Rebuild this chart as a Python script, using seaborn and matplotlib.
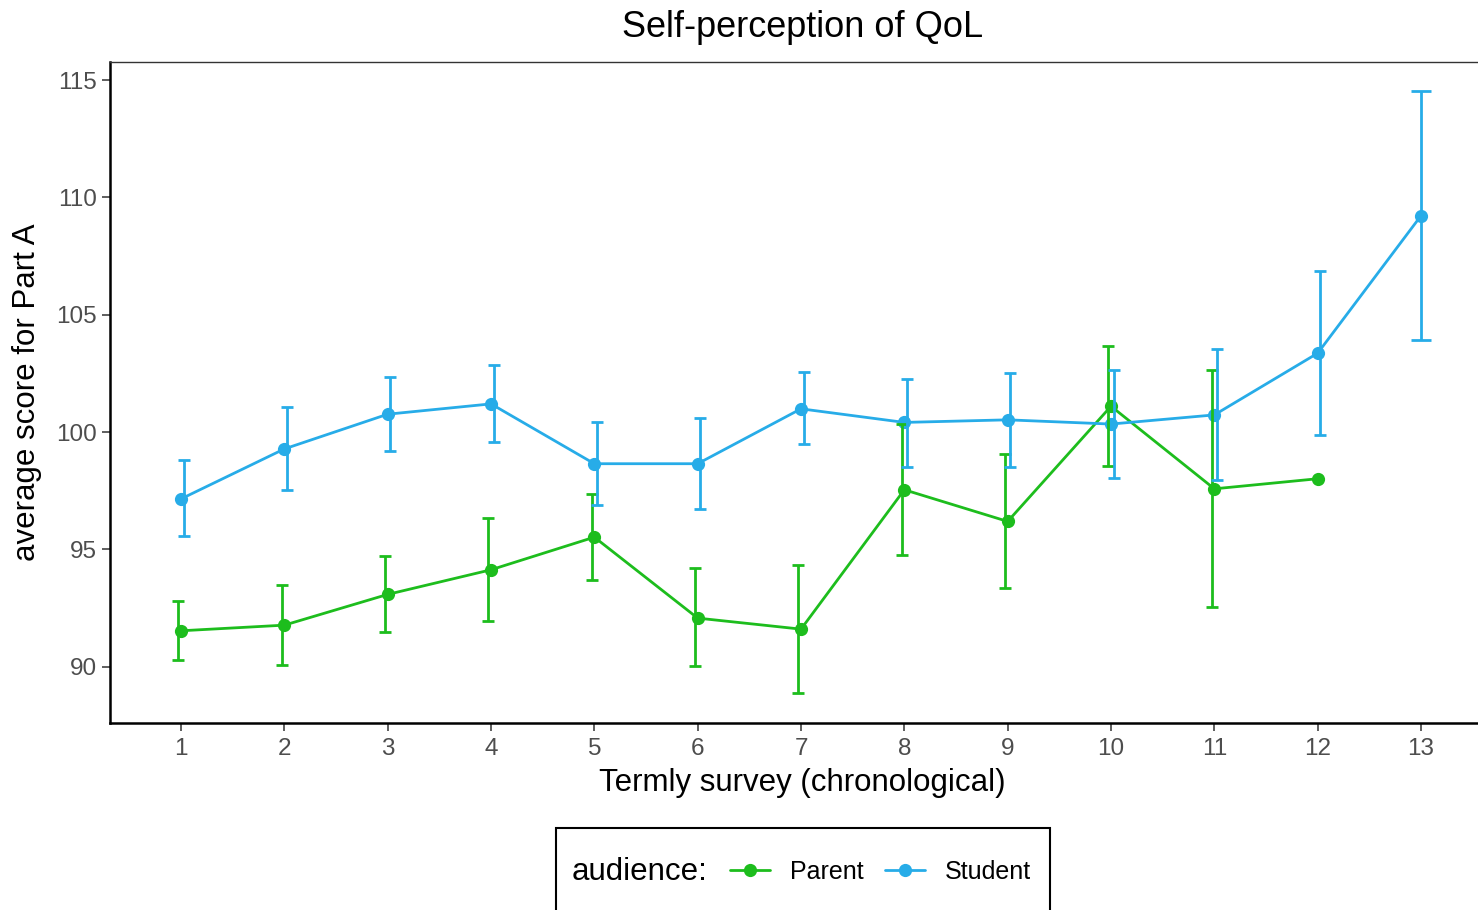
import numpy as np
import pandas as pd
import seaborn as sns
from matplotlib import pyplot as plt
from matplotlib.lines import Line2D
from matplotlib.patches import Rectangle

# values
surveys = list(range(1, 14))

parent_mean = [91.53, 91.77, 93.08, 94.13, 95.52, 92.07, 91.60, 97.54, 96.19, 101.10, 97.58, 98.01]
parent_lo = [90.30, 90.09, 91.46, 91.93, 93.71, 90.02, 88.88, 94.77, 93.35, 98.56, 92.54, np.nan]
parent_hi = [92.78, 93.49, 94.71, 96.33, 97.37, 94.20, 94.34, 100.35, 99.06, 103.68, 102.66, np.nan]

student_mean = [97.15, 99.28, 100.76, 101.20, 98.65, 98.65, 100.99, 100.41, 100.52, 100.34, 100.73, 103.36, 109.22]
student_lo = [95.55, 97.54, 99.20, 99.57, 96.87, 96.73, 99.48, 98.50, 98.53, 98.05, 97.94, 99.88, 103.93]
student_hi = [98.79, 101.06, 102.34, 102.86, 100.43, 100.58, 102.54, 102.27, 102.51, 102.66, 103.53, 106.87, 114.53]

audiences = ["Parent", "Student"]
colours = {"Parent": "#1DBD1D", "Student": "#27ACE8"}

parent = pd.DataFrame(
    {"survey": surveys[:12], "score": parent_mean, "lo": parent_lo, "hi": parent_hi}
)
parent["audience"] = "Parent"
student = pd.DataFrame(
    {"survey": surveys, "score": student_mean, "lo": student_lo, "hi": student_hi}
)
student["audience"] = "Student"
tab = pd.concat([parent, student], ignore_index=True)

sns.set_theme(style="ticks")
plt.rcParams["font.family"] = ["Liberation Sans", "DejaVu Sans"]
plt.rcParams["text.color"] = "black"
plt.rcParams["axes.labelcolor"] = "black"

W, H = 1478, 910
fig = plt.figure(figsize=(W / 100, H / 100), dpi=100)
ax = fig.add_axes([110 / W, 1 - 723 / H, (1495 - 110) / W, (723 - 62) / H])

sns.lineplot(
    data=tab,
    x="survey",
    y="score",
    hue="audience",
    palette=colours,
    hue_order=audiences,
    marker="o",
    markersize=9.5,
    markeredgewidth=0,
    linewidth=2.0,
    errorbar=None,
    legend=False,
    ax=ax,
)

# error bars, dodged a little when both groups share a survey
counts = tab.groupby("survey")["audience"].count()
for _, row in tab.dropna(subset=["lo"]).iterrows():
    shared = counts[row["survey"]] > 1
    off = 0.0
    if shared:
        off = -0.026 if row["audience"] == "Parent" else 0.026
    ax.errorbar(
        row["survey"] + off,
        row["score"],
        yerr=[[row["score"] - row["lo"]], [row["hi"] - row["score"]]],
        fmt="none",
        ecolor=colours[row["audience"]],
        elinewidth=2.0,
        capsize=4 if shared else 7.5,
        capthick=2.0,
    )

ax.set_xlim(0.313, 13.716)
ax.set_ylim(87.6, 115.77)
ax.set_xticks(surveys)
ax.set_yticks([90, 95, 100, 105, 110, 115])
ax.tick_params(axis="both", labelsize=17.5, labelcolor="#4D4D4D", color="#333333",
               length=5.5, width=1.1)
ax.tick_params(axis="x", pad=5)
ax.tick_params(axis="y", pad=4)

for side in ["left", "bottom"]:
    ax.spines[side].set_linewidth(1.8)
    ax.spines[side].set_color("black")
ax.spines["top"].set_linewidth(1.0)
ax.spines["top"].set_color("#333333")
ax.spines["right"].set_visible(False)

ax.set_xlabel("Termly survey (chronological)", fontsize=22.5, labelpad=6)
ax.set_ylabel("average score for Part A", fontsize=22.5, labelpad=10)
ax.set_title("Self-perception of QoL", fontsize=26, pad=18)

# legend box at the bottom, title inline
fig.patches.append(
    Rectangle((556 / W, -0.01), 494 / W, (910 - 828) / H + 0.01,
              transform=fig.transFigure, fill=False, edgecolor="black", lw=1.5)
)
fig.text(572 / W, 1 - 872 / H, "audience:", fontsize=22.5, va="center", ha="left")
handles = [
    Line2D([], [], color=colours[a], marker="o", markersize=9.5, markeredgewidth=0, lw=2.0)
    for a in audiences
]
fig.legend(
    handles,
    audiences,
    ncol=2,
    loc="center left",
    bbox_to_anchor=(730 / W, 1 - 872 / H),
    frameon=False,
    fontsize=18,
    handlelength=1.6,
    handletextpad=0.8,
    columnspacing=0.84,
    borderpad=0,
    borderaxespad=0,
)

plt.savefig("out.png", dpi=100)
plt.close(fig)
